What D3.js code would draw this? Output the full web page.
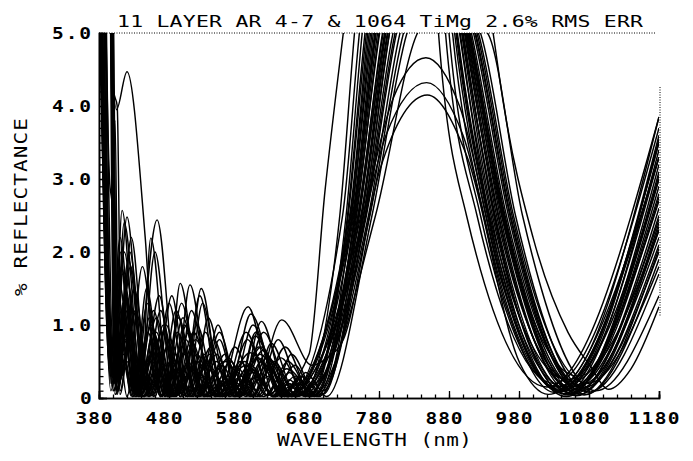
<!DOCTYPE html>
<html>
<head>
<meta charset="utf-8">
<script src="https://cdn.jsdelivr.net/npm/d3@7"></script>
<style>
  html, body { margin: 0; padding: 0; background: #fff; }
  svg { display: block; }
  text { font-family: "DejaVu Sans Mono", "Liberation Mono", monospace; fill: #000; }
</style>
</head>
<body>
<div id="chart"></div>
<script>
// tick values / labels
const xMajor = [380, 480, 580, 680, 780, 880, 980, 1080, 1180];
const xMinor = d3.range(380, 1181, 20);
const yMajor = [0, 1, 2, 3, 4, 5];
const yLabels = ["0", "1.0", "2.0", "3.0", "4.0", "5.0"];
const yMinor = d3.range(0, 51).map((d) => d / 10);

const title = "11 LAYER AR 4-7 & 1064 TiMg 2.6% RMS ERR";
const xTitle = "WAVELENGTH (nm)";
const yTitle = "% REFLECTANCE";

// [wavelength nm, reflectance %]
const run01 = [[380,20],[396,5.5],[405,3.95],[420,4.47],[446,2.2],[462,0.08],[482,0.5],[500,0.02],[522,0.35],[548,0.03],[590,0.45],[632,0.02],[652,0.15],[680,0.05],[735,2.5],[760,5],[850,9],[890,5],[935,2.5],[1040,0.1],[1180,3.6]];
const run02 = [[380,25],[394,9],[401,0.2],[413,2.57],[436,0.05],[462,0.7],[488,0.03],[515,0.9],[548,0.05],[585,0.3],[615,0.02],[648,0.4],[690,0.05],[745,2.5],[775,5],[855,8],[900,5],[945,2.5],[1050,0.05],[1180,3.0]];
const run03 = [[380,14],[402,0.3],[420,2.48],[444,0.1],[470,0.9],[494,0.05],[520,0.5],[552,0.02],[596,0.62],[650,0.02],[728,2.5],[752,5],[845,10],[880,5],[925,2.5],[1035,0.15],[1180,3.85]];
const run04 = [[380,6],[398,0.4],[412,1.2],[430,0.05],[463,2.44],[492,0.04],[512,0.4],[534,0.02],[566,0.3],[590,0.02],[620,0.55],[665,0.03],[750,2.5],[785,5],[860,7.5],[905,5],[955,2.5],[1060,0.08],[1180,2.5]];
const run05 = [[380,30],[397,5.5],[405,0.1],[425,0.9],[440,0.05],[454,2.19],[480,0.06],[505,1.0],[530,0.02],[560,0.6],[585,0.03],[612,0.5],[645,0.02],[670,0.3],[700,0.05],[755,2.5],[790,5],[862,7],[910,5],[960,2.5],[1065,0.12],[1180,2.3]];
const run06 = [[380,7],[400,0.2],[418,1.4],[440,0.05],[462,0.8],[478,0.02],[496,1.57],[525,0.03],[550,0.4],[575,0.02],[608,0.7],[650,0.02],[740,2.5],[768,5],[852,8.5],[895,5],[940,2.5],[1048,0.02],[1180,3.2]];
const run07 = [[380,30],[398,7],[406,0.1],[425,1.8],[448,0.03],[470,0.6],[488,0.02],[510,1.55],[540,0.04],[565,0.25],[582,0.02],[615,0.9],[655,0.03],[675,0.35],[700,0.1],[760,2.5],[800,5],[865,6.5],[915,5],[965,2.5],[1070,0.1],[1180,2.1]];
const run08 = [[380,5.6],[398,0.3],[410,2.0],[428,0.1],[450,1.3],[470,0.03],[500,0.7],[515,0.02],[536,1.1],[565,0.04],[600,0.35],[630,0.02],[650,0.2],[670,0.03],[724,2.5],[745,5],[840,11],[875,5],[920,2.5],[1030,0.2],[1180,3.7]];
const run09 = [[380,30],[396,8],[404,0.05],[422,1.0],[445,0.02],[468,1.2],[492,0.05],[518,0.8],[550,0.03],[593,1.25],[630,0.05],[652,0.25],[675,0.02],[765,2.5],[810,5],[868,6.2],[920,5],[970,2.5],[1075,0.05],[1180,1.9]];
const run10 = [[380,8],[397,0.5],[408,1.6],[432,0.05],[455,0.6],[475,0.02],[500,1.1],[528,0.03],[555,0.2],[565,0.05],[597,1.15],[640,0.02],[665,0.1],[692,0.02],[748,2.5],[780,5],[858,7.8],[902,5],[950,2.5],[1055,0.15],[1180,2.8]];
const run11 = [[380,30],[395,9],[402,0.1],[415,0.6],[430,0.02],[448,1.5],[472,0.05],[492,0.5],[510,0.02],[540,0.7],[568,0.02],[600,1.0],[640,0.03],[668,0.3],[698,0.04],[752,2.5],[788,5],[860,7.2],[908,5],[958,2.5],[1062,0.03],[1180,2.4]];
const run12 = [[380,6.5],[396,0.8],[404,0.2],[422,1.9],[446,0.04],[470,0.4],[490,0.02],[512,1.2],[542,0.03],[570,0.3],[580,0.1],[603,0.85],[645,0.02],[742,2.5],[772,5],[854,8.2],[898,5],[942,2.5],[1052,0.1],[1180,3.1]];
const run13 = [[380,10],[400,0.3],[416,1.1],[436,0.02],[458,0.9],[480,0.03],[505,0.3],[520,0.02],[560,0.5],[600,0.02],[641,1.07],[684,0.45],[706,0.55],[729,0.8],[781,3.12],[849,4.15],[906,3.3],[981,0.48],[1022,0.05],[1180,3.3]];
const run14 = [[380,15],[398,0.6],[410,2.2],[432,0.05],[455,1.0],[478,0.02],[502,0.6],[518,0.02],[548,0.5],[574,0.02],[610,0.6],[652,0.03],[700,0.6],[740,1.7],[790,3.6],[848,4.32],[900,3.6],[960,1.3],[1030,0.08],[1180,3.3]];
const run15 = [[380,7.5],[401,0.1],[418,0.8],[440,0.02],[466,1.4],[490,0.03],[516,0.4],[532,0.02],[565,0.55],[592,0.03],[620,0.45],[655,0.02],[705,0.5],[750,2.2],[800,4.1],[847,4.66],[895,4.0],[955,1.6],[1035,0.1],[1180,3.5]];
const run16 = [[380,30],[398,6],[404,0.2],[414,1.3],[434,0.03],[452,0.5],[468,0.02],[492,0.9],[520,0.02],[548,0.3],[566,0.02],[598,0.4],[630,0.02],[680,0.6],[703,2.85],[729,5],[830,12],[865,5],[905,2.5],[1020,0.15],[1180,3.85]];
const run17 = [[380,9],[403,0.05],[424,0.7],[444,0.02],[470,0.3],[486,0.02],[508,0.9],[535,0.02],[560,0.2],[572,0.02],[612,0.7],[650,0.03],[700,0.3],[758,2.5],[795,5],[875,9],[943,5],[957,4.08],[1000,2.2],[1050,0.9],[1081,0.45],[1108,0.12],[1140,0.4],[1180,1.25]];
const run18 = [[380,5.8],[397,0.1],[411,0.9],[428,0.02],[446,0.4],[460,0.02],[484,1.4],[508,0.03],[530,0.6],[554,0.02],[588,0.5],[620,0.03],[640,0.15],[660,0.02],[744,2.5],[776,5],[856,8],[899,5],[946,2.5],[1053,0.07],[1180,2.9]];
const run19 = [[380,30],[399,4.5],[410,0.1],[428,1.2],[452,0.02],[476,1.0],[500,0.04],[524,1.4],[552,0.03],[578,0.2],[590,0.05],[618,0.6],[655,0.02],[758,2.5],[795,5],[864,6.8],[912,5],[962,2.5],[1068,0.18],[1180,2.2]];
const run20 = [[380,6.2],[395,0.4],[406,1.5],[426,0.03],[442,0.6],[458,0.02],[480,1.3],[506,0.02],[532,0.9],[560,0.04],[585,0.2],[598,0.03],[625,0.4],[650,0.02],[738,2.5],[764,5],[850,9],[888,5],[933,2.5],[1044,0.06],[1180,3.4]];
const run21 = [[380,30],[400,6],[407,0.2],[420,1.0],[438,0.03],[456,0.3],[468,0.02],[490,1.2],[518,0.05],[548,0.6],[574,0.02],[604,0.3],[620,0.04],[650,0.5],[685,0.03],[775,2.5],[835,5],[875,5.4],[935,5],[985,2.5],[1090,0.1],[1180,1.4]];
const run22 = [[380,8.5],[398,0.2],[416,2.0],[440,0.04],[460,0.5],[474,0.02],[498,1.3],[526,0.03],[552,0.8],[578,0.02],[610,0.25],[625,0.05],[652,0.35],[680,0.02],[733,2.5],[756,5],[848,9.5],[885,5],[930,2.5],[1038,0.12],[1180,3.5]];
const run23 = [[380,30],[397,6],[410,0.05],[430,1.5],[454,0.03],[478,0.7],[496,0.02],[520,1.0],[548,0.02],[580,0.4],[600,0.03],[630,0.5],[662,0.02],[750,2.5],[786,5],[859,7.3],[906,5],[953,2.5],[1058,0.05],[1180,2.6]];
const run24 = [[380,6.8],[396,0.3],[414,1.7],[436,0.02],[462,1.1],[486,0.03],[506,0.3],[520,0.02],[544,0.8],[572,0.03],[608,0.55],[640,0.02],[664,0.2],[690,0.03],[767,2.5],[815,5],[869,6],[922,5],[972,2.5],[1078,0.2],[1180,1.8]];
const run25 = [[380,30],[397,7],[404,0.1],[420,0.5],[434,0.02],[452,1.1],[476,0.03],[496,0.4],[512,0.02],[534,0.5],[556,0.02],[590,0.9],[628,0.03],[660,0.45],[688,0.02],[741,2.5],[770,5],[853,8.4],[896,5],[938,2.5],[1050,0.25],[1180,3.0]];
const run26 = [[380,7],[399,0.4],[408,0.1],[426,2.2],[450,0.02],[474,0.45],[490,0.02],[514,0.75],[538,0.02],[568,0.5],[596,0.02],[622,0.3],[648,0.02],[754,2.5],[792,5],[861,7],[909,5],[957,2.5],[1064,0.3],[1180,2.3]];
const run27 = [[380,30],[396,7.5],[402,0.2],[418,1.2],[440,0.03],[462,0.9],[484,0.02],[508,0.5],[526,0.03],[550,1.0],[578,0.03],[606,0.3],[628,0.02],[655,0.6],[690,0.05],[746,2.5],[778,5],[857,7.6],[903,5],[948,2.5],[1056,0.22],[1180,2.7]];
const run28 = [[380,5.4],[397,0.9],[404,0.3],[416,0.8],[432,0.02],[454,0.5],[470,0.03],[494,1.1],[520,0.02],[542,0.4],[560,0.02],[592,0.8],[628,0.02],[652,0.2],[675,0.02],[762,2.5],[805,5],[866,6.4],[918,5],[968,2.5],[1072,0.14],[1180,2.0]];
const run29 = [[380,30],[399,5],[406,0.05],[420,1.6],[444,0.02],[466,0.6],[482,0.02],[504,0.8],[530,0.02],[556,0.45],[580,0.02],[614,0.65],[650,0.03],[680,0.3],[705,0.02],[770,2.5],[820,5],[870,5.8],[925,5],[975,2.5],[1080,0.08],[1180,1.7]];
const run30 = [[380,6],[399,0.15],[412,1.8],[434,0.03],[458,1.2],[482,0.02],[502,0.2],[514,0.02],[538,0.6],[560,0.02],[596,0.45],[632,0.02],[660,0.3],[682,0.02],[736,2.5],[762,5],[851,8.8],[892,5],[937,2.5],[1042,0.09],[1180,3.55]];
const run31 = [[380,30],[392,12],[399,3.5],[403,3.8],[408,0.2],[424,2.0],[448,0.03],[472,1.0],[496,0.02],[520,0.6],[546,0.02],[578,0.35],[604,0.02],[636,0.8],[672,0.03],[747,2.5],[781,5],[857,7.7],[904,5],[951,2.5],[1057,0.12],[1180,2.75]];
const run32 = [[380,12],[395,3],[399,2.6],[405,0.1],[418,1.5],[438,0.02],[460,2.0],[486,0.03],[508,0.45],[524,0.02],[552,0.9],[582,0.02],[612,1.05],[650,0.02],[743,2.5],[774,5],[855,8],[900,5],[944,2.5],[1051,0.04],[1180,3.05]];
const run33 = [[380,30],[401,4.2],[406,4.0],[412,0.3],[432,1.2],[456,0.03],[482,0.8],[506,0.02],[530,0.3],[546,0.02],[574,0.7],[606,0.02],[640,0.55],[676,0.03],[756,2.5],[793,5],[862,7],[910,5],[959,2.5],[1066,0.05],[1180,2.35]];
const run34 = [[380,6.3],[397,0.2],[407,0.8],[420,0.02],[442,1.8],[468,0.03],[490,0.4],[506,0.02],[528,1.3],[556,0.02],[584,0.3],[600,0.02],[626,0.75],[662,0.02],[739,2.5],[766,5],[851,8.8],[891,5],[936,2.5],[1046,0.15],[1180,3.3]];
const run35 = [[380,30],[398,5],[403,0.4],[416,2.4],[442,0.02],[466,0.35],[480,0.02],[502,1.0],[530,0.02],[560,0.25],[576,0.02],[604,0.9],[642,0.02],[666,0.25],[694,0.02],[761,2.5],[803,5],[866,6.4],[917,5],[967,2.5],[1073,0.04],[1180,2.05]];
const run36 = [[380,8],[400,0.1],[414,0.5],[428,0.02],[450,0.9],[470,0.02],[490,0.6],[504,0.02],[526,1.5],[556,0.03],[582,0.5],[610,0.02],[646,0.7],[684,0.02],[751,2.5],[789,5],[860,7.1],[907,5],[956,2.5],[1061,0.16],[1180,2.45]];

const runs = [run01, run02, run03, run04, run05, run06, run07, run08, run09, run10,
  run11, run12, run13, run14, run15, run16, run17, run18, run19, run20,
  run21, run22, run23, run24, run25, run26, run27, run28, run29, run30,
  run31, run32, run33, run34, run35, run36];

const w = 693;
const h = 461;
const plotLeft = 99, plotRight = 659, plotTop = 33, plotBottom = 398;

const svg = d3.select("#chart").append("svg").attr("width", w).attr("height", h);
svg.append("rect").attr("width", w).attr("height", h).attr("fill", "#fff");

const xScale = d3.scaleLinear().domain([380, 1180]).range([plotLeft, plotRight]);
const yScale = d3.scaleLinear().domain([0, 5]).range([plotBottom, plotTop]);

svg.append("clipPath").attr("id", "plot")
  .append("rect")
  .attr("x", plotLeft).attr("y", plotTop)
  .attr("width", plotRight - plotLeft).attr("height", plotBottom - plotTop);

const line = d3.line()
  .x((d) => xScale(d[0]))
  .y((d) => yScale(d[1]))
  .curve(d3.curveMonotoneX);

svg.append("g")
  .attr("clip-path", "url(#plot)")
  .selectAll("path")
  .data(runs)
  .enter()
  .append("path")
  .attr("d", line)
  .attr("fill", "none")
  .attr("stroke", "#000")
  .attr("stroke-width", 1.45);

// frame: dotted top and right, solid axes
svg.append("line")
  .attr("x1", plotLeft).attr("x2", 656).attr("y1", plotTop).attr("y2", plotTop)
  .attr("stroke", "#000").attr("stroke-width", 1).attr("stroke-dasharray", "1,1.5");
svg.append("line")
  .attr("x1", 660).attr("x2", 660).attr("y1", 87).attr("y2", 317)
  .attr("stroke", "#000").attr("stroke-width", 1).attr("stroke-dasharray", "1,1.5");

const xMinorAxis = svg.append("g")
  .attr("transform", `translate(0,${plotBottom})`)
  .call(d3.axisBottom(xScale).tickValues(xMinor).tickSize(-3.5).tickFormat(""));
const xMajorAxis = svg.append("g")
  .attr("transform", `translate(0,${plotBottom})`)
  .call(d3.axisBottom(xScale).tickValues(xMajor).tickSize(-7).tickFormat(""));
const yMinorAxis = svg.append("g")
  .attr("transform", `translate(${plotLeft},0)`)
  .call(d3.axisLeft(yScale).tickValues(yMinor).tickSize(-4.5).tickFormat(""));
const yMajorAxis = svg.append("g")
  .attr("transform", `translate(${plotLeft},0)`)
  .call(d3.axisLeft(yScale).tickValues(yMajor).tickSize(-8).tickFormat(""));

[xMinorAxis, xMajorAxis, yMinorAxis, yMajorAxis].forEach((g) => {
  g.select(".domain").attr("stroke", "#000").attr("stroke-width", 1.6);
  g.selectAll(".tick line").attr("stroke", "#000").attr("stroke-width", 1.3);
});

// plotter lettering: wide glyphs, stretched to the measured width
function label(x, y, str, opts) {
  const sx = opts.sx || 1.25;
  const g = svg.append("g")
    .attr("transform", `translate(${x},${y})${opts.rotate ? " rotate(-90)" : ""} scale(${sx},1)`);
  g.append("text")
    .attr("font-size", opts.size)
    .attr("font-weight", opts.weight || "normal")
    .attr("text-anchor", opts.anchor || "start")
    .attr("textLength", opts.len / sx)
    .attr("lengthAdjust", "spacing")
    .text(str);
}

xMajor.forEach((d) => {
  const len = d >= 1000 ? 51 : 37;
  label(xScale(d) - 5 - len / 2, 424, d, { size: 15, len: len, weight: "bold", sx: 1.3 });
});

yMajor.forEach((d, i) => {
  const s = yLabels[i];
  const len = s.length > 1 ? 39 : 11;
  label(91 - len, yScale(d) + 5.5, s, { size: 15, len: len, weight: "bold", sx: 1.3 });
});

label(117, 27, title, { size: 16.5, len: 526, sx: 1.3 });
label(277, 446, xTitle, { size: 17.5, len: 195, sx: 1.2 });
label(27, 296, yTitle, { size: 17.5, len: 178, sx: 1.2, rotate: true });
</script>
</body>
</html>
